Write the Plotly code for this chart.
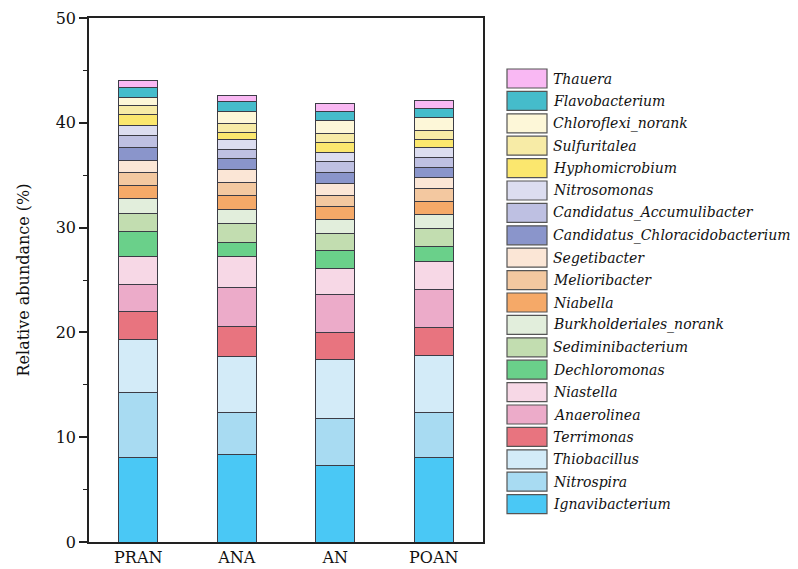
import plotly.graph_objects as go

# Samples and genera (stacked bottom -> top)
samples = ["PRAN", "ANA", "AN", "POAN"]
genera = [
    "Ignavibacterium", "Nitrospira", "Thiobacillus", "Terrimonas", "Anaerolinea",
    "Niastella", "Dechloromonas", "Sediminibacterium", "Burkholderiales_norank",
    "Niabella", "Melioribacter", "Segetibacter", "Candidatus_Chloracidobacterium",
    "Candidatus_Accumulibacter", "Nitrosomonas", "Hyphomicrobium", "Sulfuritalea",
    "Chloroflexi_norank", "Flavobacterium", "Thauera",
]
colors = [
    "#4AC8F5", "#A8DBF2", "#D3EBF8", "#E8747F", "#ECABC9",
    "#F7D8E6", "#6AD08A", "#C2DDB0", "#E2EEDC",
    "#F5A968", "#F3C8A0", "#FBE6D6", "#8A95CB",
    "#BEC0E2", "#DCDDF0", "#FBE76E", "#F7EBA6",
    "#FDF7D8", "#45BCCB", "#F9B8F3",
]

# Relative abundance (%) per sample, same order as genera
pran = [8.1, 6.2, 5.05, 2.6, 2.6, 2.7, 2.4, 1.7, 1.45, 1.25,
        1.2, 1.2, 1.2, 1.1, 1.0, 1.0, 0.9, 0.8, 0.9, 0.7]
ana = [8.35, 4.05, 5.3, 2.9, 3.7, 2.9, 1.4, 1.8, 1.3, 1.35,
       1.25, 1.2, 1.1, 0.9, 0.9, 0.7, 0.8, 1.2, 0.9, 0.65]
an = [7.3, 4.5, 5.6, 2.6, 3.6, 2.5, 1.7, 1.6, 1.4, 1.2,
      1.1, 1.1, 1.1, 1.0, 0.9, 0.9, 0.9, 1.2, 0.9, 0.7]
poan = [8.1, 4.25, 5.4, 2.7, 3.65, 2.65, 1.45, 1.7, 1.35, 1.25,
        1.2, 1.05, 1.0, 0.95, 0.9, 0.8, 0.9, 1.2, 0.9, 0.7]

W, H = 798, 569
L, R, T, B = 89, 315, 18, 27
pw, ph = W - L - R, H - T - B

FONT = "DejaVu Serif, serif"

fig = go.Figure()
for i, (g, c) in enumerate(zip(genera, colors)):
    fig.add_trace(go.Bar(
        x=samples,
        y=[pran[i], ana[i], an[i], poan[i]],
        name=g,
        width=0.4,
        marker=dict(color=c, line=dict(color="#3c3c46", width=1)),
        showlegend=False,
    ))


def px_x(x):
    return (x - L) / pw


def px_y(y):
    return 1 - (y - T) / ph


# Legend: swatch boxes with italic labels, top entry = top of stack
shapes = []
annotations = []
top0, step, sw_h = 69, 22.4, 19
for k, idx in enumerate(range(len(genera) - 1, -1, -1)):
    y0 = top0 + k * step
    shapes.append(dict(
        type="rect", xref="paper", yref="paper",
        x0=px_x(507), x1=px_x(547), y0=px_y(y0 + sw_h), y1=px_y(y0),
        fillcolor=colors[idx], line=dict(color="#555555", width=1.2),
    ))
    annotations.append(dict(
        xref="paper", yref="paper", x=px_x(551), y=px_y(y0 + sw_h / 2),
        xanchor="left", yanchor="middle", showarrow=False,
        text="<i>%s</i>" % genera[idx],
        font=dict(family=FONT, size=14, color="#111111"),
    ))

fig.update_layout(
    width=W, height=H,
    margin=dict(l=L, r=R, t=T, b=B, pad=0),
    barmode="stack",
    plot_bgcolor="white", paper_bgcolor="white",
    font=dict(family=FONT, size=15, color="#111111"),
    shapes=shapes,
    annotations=annotations,
    xaxis=dict(
        range=[-0.5, 3.5], automargin=False,
        showline=True, linecolor="#222222", linewidth=1.5, mirror=True,
        ticks="", showgrid=False,
        tickfont=dict(family=FONT, size=16, color="#111111"),
    ),
    yaxis=dict(
        range=[0, 50], dtick=10, automargin=False,
        showline=True, linecolor="#222222", linewidth=1.5, mirror=True,
        ticks="outside", ticklen=8, tickwidth=1.5, tickcolor="#222222",
        minor=dict(dtick=5, ticks="outside", ticklen=4, tickwidth=1.2, tickcolor="#222222"),
        showgrid=False, zeroline=False,
        tickfont=dict(family=FONT, size=16, color="#111111"),
        title=dict(text="Relative abundance (%)", standoff=22,
                   font=dict(family=FONT, size=16, color="#111111")),
    ),
)

fig.write_html("out.html")
